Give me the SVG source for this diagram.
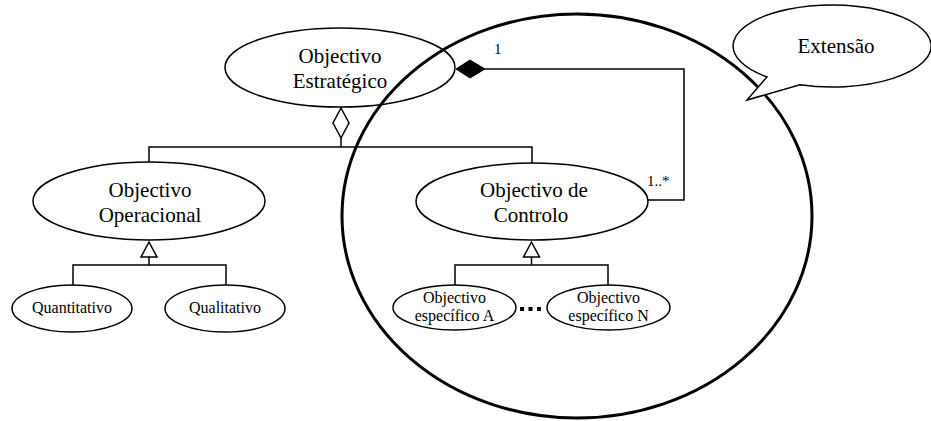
<svg xmlns="http://www.w3.org/2000/svg" width="931" height="421" viewBox="0 0 931 421">
<style>
.n{fill:#fff;stroke:#000;stroke-width:1.5}
.c{fill:none;stroke:#000;stroke-width:1.5}
.t{font-family:"Liberation Serif","Times New Roman",serif;fill:#000;text-anchor:middle}
.big{font-size:21px}
.sm{font-size:16px}
.lb{font-size:15px;text-anchor:start}
</style>
<rect width="931" height="421" fill="#fff"/>
<g id="connectors">
  <polyline class="c" points="341,138 341,147"/>
  <polyline class="c" points="149,162 149,147 532,147 532,163"/>
  <polygon class="n" points="341,108 349,123 341,138 333,123"/>
  <polyline class="c" points="485,69 684,69 684,200 647,200"/>
  <polygon points="456,69 470,60 485,69 470,78" fill="#000" stroke="#000" stroke-width="1"/>
  <text class="t lb" x="494" y="54">1</text>
  <text class="t lb" x="647" y="186">1..*</text>
  <polyline class="c" points="149,257 149,265"/>
  <polyline class="c" points="73,285 73,265 226,265 226,285"/>
  <polygon class="n" points="149,242 157,257 141,257"/>
  <polyline class="c" points="531.5,257 531.5,265"/>
  <polyline class="c" points="455,285 455,265 608,265 608,285"/>
  <polygon class="n" points="531.5,242 539.5,257 523.5,257"/>
  <rect x="520" y="307" width="4" height="4" fill="#000"/>
  <rect x="528.5" y="307" width="4" height="4" fill="#000"/>
  <rect x="537" y="307" width="4" height="4" fill="#000"/>
</g>
<g id="estrategico">
  <ellipse class="n" cx="340" cy="67.5" rx="115" ry="39.5"/>
  <text class="t big" x="340" y="63">Objectivo</text>
  <text class="t big" x="340" y="88">Estratégico</text>
</g>
<g id="operacional">
  <ellipse class="n" cx="149" cy="201" rx="116" ry="39"/>
  <text class="t big" x="150" y="197">Objectivo</text>
  <text class="t big" x="150" y="222">Operacional</text>
</g>
<g id="controlo">
  <ellipse class="n" cx="532" cy="201.5" rx="116" ry="38.5"/>
  <text class="t big" x="534" y="197">Objectivo de</text>
  <text class="t big" x="531" y="222">Controlo</text>
</g>
<g id="quantitativo">
  <ellipse class="n" cx="72" cy="308.5" rx="60" ry="23.5"/>
  <text class="t sm" x="72" y="313">Quantitativo</text>
</g>
<g id="qualitativo">
  <ellipse class="n" cx="225" cy="308.5" rx="60" ry="23.5"/>
  <text class="t sm" x="225" y="313">Qualitativo</text>
</g>
<g id="especificoA">
  <ellipse class="n" cx="454.5" cy="307.5" rx="61.5" ry="22.5"/>
  <text class="t sm" x="454.5" y="303">Objectivo</text>
  <text class="t sm" x="454.5" y="321">específico A</text>
</g>
<g id="especificoN">
  <ellipse class="n" cx="608.5" cy="307.5" rx="61.5" ry="22.5"/>
  <text class="t sm" x="608.5" y="303">Objectivo</text>
  <text class="t sm" x="608.5" y="321">específico N</text>
</g>
<ellipse cx="577" cy="216" rx="235" ry="202" fill="none" stroke="#000" stroke-width="3"/>
<g id="extensao">
  <path class="n" d="M767,76.9 A99,41 0 1,1 800,84.8 L747,100 Z"/>
  <text class="t big" x="836" y="53">Extensão</text>
</g>
</svg>
